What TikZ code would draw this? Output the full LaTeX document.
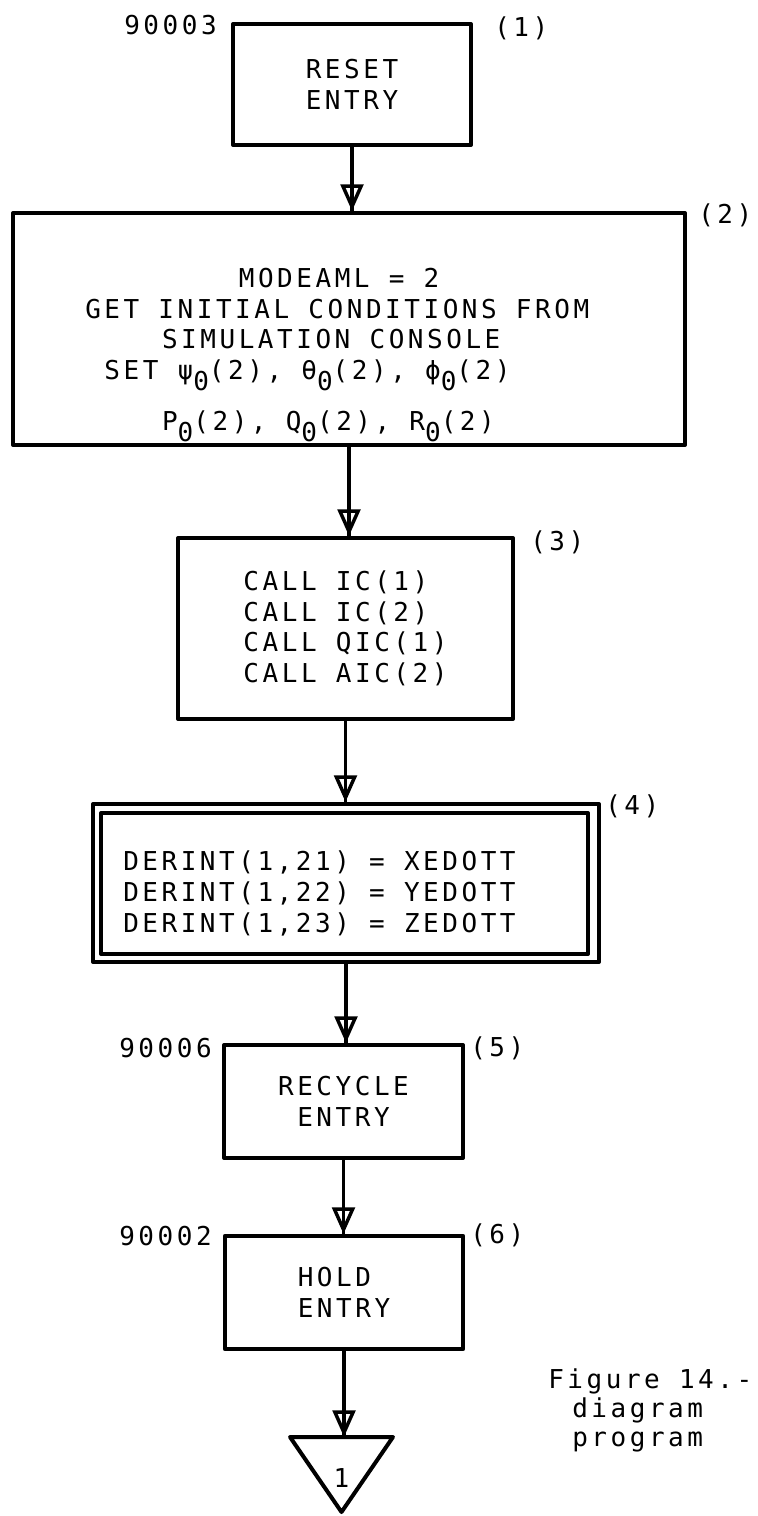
\documentclass[tikz,border=0pt]{standalone}
\usepackage{fontspec}
\usetikzlibrary{arrows.meta}
\newfontfamily\tw[LetterSpace=13.6]{DejaVu Sans Mono}
\newlength\chw
\setlength\chw{14.4pt}
\newcommand\lowr[1]{\raisebox{-8.25pt}[0pt][0pt]{#1}}
\tikzset{
  boxline/.style={draw, line width=3pt, line join=round},
  box/.style={boxline, rectangle, inner sep=0pt, align=center},
  lbl/.style={inner sep=0pt},
  txt/.style={inner sep=0pt, align=left},
  flow/.style={line width=2.4pt,
    -{Triangle[open, length=20pt, width=17pt, line width=2.6pt]},
    postaction={draw, line width=2.4pt, arrows=-}}
}
\begin{document}
\begin{tikzpicture}[x=0.75pt, y=-0.75pt, font={\fontsize{19.5pt}{22.9pt}\tw}]
\useasboundingbox (0,0) rectangle (757,1516);

% boxes
\node[box, minimum width=178.5pt, minimum height=90.75pt] (b1) at (352,84.5) {RESET\\ENTRY};
\node[box, minimum width=504pt, minimum height=174pt] (b2) at (349,329) {};
\node[txt, anchor=north west] (t2) at (85,268)
  {\hspace*{8\chw}MODEAML = 2\\
   GET INITIAL CONDITIONS FROM\\
   \hspace*{4\chw}SIMULATION CONSOLE\\
   \hspace*{\chw}SET ψ\lowr{0}(2), θ\lowr{0}(2), ϕ\lowr{0}(2)\\[15.35pt]
   \hspace*{4\chw}P\lowr{0}(2), Q\lowr{0}(2), R\lowr{0}(2)};
\node[box, align=left, minimum width=251.25pt, minimum height=135.75pt] (b3) at (345.5,628.5)
  {CALL IC(1)\\CALL IC(2)\\CALL QIC(1)\\CALL AIC(2)};
\node[box, minimum width=379.5pt, minimum height=118.5pt] (b4) at (346,883) {};
\draw[boxline] ([shift={(10,11)}]b4.north west) rectangle ([shift={(-13,-10)}]b4.south east);
\node[txt, anchor=north west, font={\fontsize{19.5pt}{23.6pt}\tw}] (t4) at (123,850)
  {DERINT(1,21) = XEDOTT\\DERINT(1,22) = YEDOTT\\DERINT(1,23) = ZEDOTT};
\node[box, minimum width=179.25pt, minimum height=84.75pt] (b5) at (343.5,1101.5) {RECYCLE\\ENTRY};
\node[box, align=left, minimum width=178.9pt, minimum height=84.75pt] (b6) at (344,1292.5) {HOLD\\ENTRY};

% connector triangle
\coordinate (tritop) at (341.5,1437);
\draw[boxline] (290,1437) -- (393,1437) -- (341.5,1512) -- cycle;
\node[lbl] (t1) at (341.5,1478) {1};

% labels
\node[lbl, anchor=east] (l90003) at (217,25) {90003};
\node[lbl, anchor=west] (n1) at (494,28) {(1)};
\node[lbl, anchor=west] (n2) at (698,215) {(2)};
\node[lbl, anchor=west] (n3) at (530,542) {(3)};
\node[lbl, anchor=west] (n4) at (605,806) {(4)};
\node[lbl, anchor=east] (l90006) at (212,1048) {90006};
\node[lbl, anchor=west] (n5) at (470,1048) {(5)};
\node[lbl, anchor=east] (l90002) at (212,1236) {90002};
\node[lbl, anchor=west] (n6) at (470,1235) {(6)};

% caption
\node[txt, anchor=north west, font={\fontsize{19.5pt}{21.75pt}\tw}] (cap) at (548,1368)
  {Figure 14.-\\\hspace*{18pt}diagram\\\hspace*{18pt}program};

% connectors
\draw[flow] (b1.south) -- (b1.south |- b2.north);
\draw[flow] (b2.south) -- (b2.south |- b3.north);
\draw[flow] (b3.south) -- (b3.south |- b4.north);
\draw[flow] (b4.south) -- (b4.south |- b5.north);
\draw[flow] (b5.south) -- (b5.south |- b6.north);
\draw[flow] (b6.south) -- (b6.south |- tritop);
\end{tikzpicture}
\end{document}
